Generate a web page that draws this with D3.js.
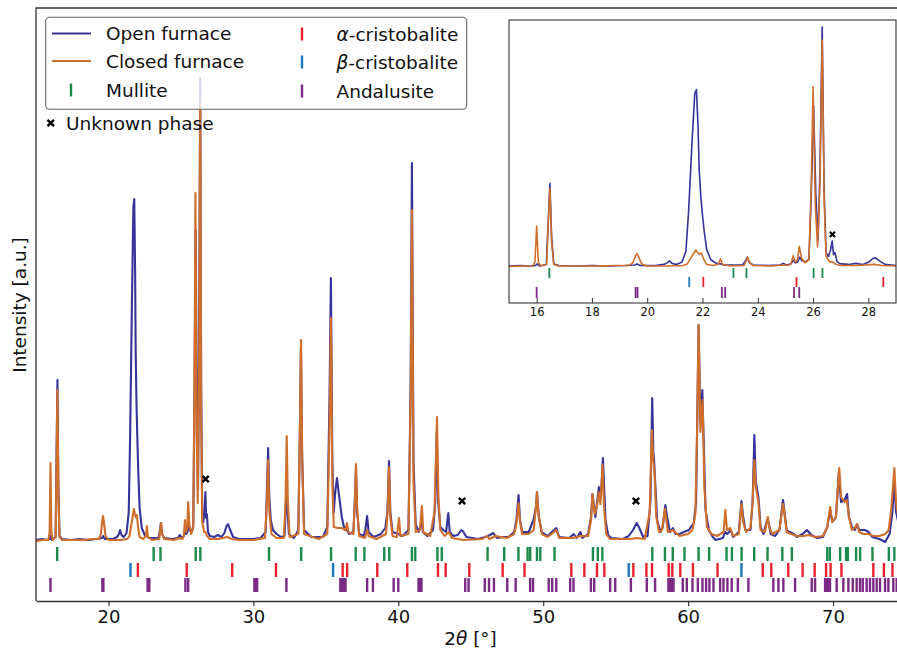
<!DOCTYPE html>
<html><head><meta charset="utf-8">
<script src="https://cdn.jsdelivr.net/npm/d3@7"></script>
<style>body{margin:0;background:#fff} svg{display:block} text{font-family:"DejaVu Sans",sans-serif}</style>
</head><body><svg id="c" width="897" height="652"></svg>
<script>
// ---------- data (2θ in degrees, intensity in arbitrary units) ----------
const openFurnace = [
[15.0,2],[15.4,3],[15.8,2],[15.96,3],[16.02,6],[16.1,2],[16.35,5],[16.42,90],[16.48,162],[16.54,60],[16.62,6],[16.8,3],[17.4,2],[18.0,3],[18.6,2],[19.2,3],[19.55,4],[19.63,6],[19.75,3],[20.3,3],[20.6,5],[20.72,8],[20.8,12],[20.9,7],[21.05,5],[21.25,9],[21.4,30],[21.5,110],[21.62,240],[21.72,335],[21.78,343],[21.84,270],[21.88,188],[21.94,135],[22.0,100],[22.06,70],[22.15,34],[22.3,14],[22.5,7],[22.65,6],[22.8,4],[23.2,4],[23.45,4],[23.56,12],[23.62,19],[23.7,8],[23.85,4],[24.4,3],[24.8,4],[24.92,7],[25.05,4],[25.2,6],[25.28,13],[25.36,8],[25.45,10],[25.52,19],[25.6,12],[25.75,10],[25.85,16],[25.93,130],[26.02,312],[26.1,140],[26.18,52],[26.25,190],[26.33,464],[26.4,150],[26.47,28],[26.55,20],[26.63,32],[26.69,50],[26.74,24],[26.79,28],[26.87,10],[27.0,6],[27.3,5],[27.55,7],[27.8,5],[28.0,9],[28.15,16],[28.25,18],[28.4,12],[28.6,5],[29.0,3],
[30.0,3],[30.5,4],[30.85,10],[30.95,60],[31.02,94],[31.1,45],[31.2,22],[31.35,12],[31.6,8],[31.9,5],[32.15,6],[32.28,52],[32.36,30],[32.45,8],[32.8,4],[33.1,12],[33.2,100],[33.28,195],[33.36,90],[33.5,12],[34.0,5],[34.8,5],[35.1,15],[35.25,140],[35.35,264],[35.45,80],[35.54,29],[35.65,50],[35.77,64],[35.88,50],[35.98,39],[36.1,25],[36.3,12],[36.45,12],[36.6,8],[36.9,10],[37.0,40],[37.08,72],[37.16,30],[37.3,8],[37.6,6],[37.72,12],[37.85,26],[37.95,10],[38.3,5],[38.8,8],[39.1,14],[39.25,30],[39.36,81],[39.45,30],[39.6,10],[40.0,8],[40.3,6],[40.7,12],[40.85,150],[40.94,379],[41.05,80],[41.2,18],[41.4,10],[41.6,20],[41.7,10],[42.0,6],[42.4,12],[42.55,40],[42.65,110],[42.75,40],[42.9,15],[43.1,12],[43.3,10],[43.45,29],[43.55,10],[43.8,6],[44.1,7],[44.35,12],[44.45,11],[44.7,5],[45.5,3],[46.0,5],[46.2,6],[46.55,9],[46.8,4],[47.3,5],[47.6,5],[48.0,10],[48.15,22],[48.3,47],[48.4,22],[48.55,10],[49.0,10],[49.33,22],[49.5,35],[49.57,50],[49.7,25],[49.9,10],[50.3,6],[50.75,12],[50.9,14],[51.1,5],[51.8,4],[52.1,8],[52.3,4],[52.57,10],[52.7,4],[53.1,8],[53.3,25],[53.4,48],[53.6,25],[53.7,38],[53.84,55],[53.98,45],[54.12,84],[54.3,22],[54.48,7],[54.7,4],[55.5,3],[55.9,6],[56.2,12],[56.45,19],[56.6,15],[56.9,5],[57.2,6],[57.4,40],[57.52,144],[57.6,90],[57.65,82],[57.86,22],[58.09,10],[58.25,15],[58.43,37],[58.55,25],[58.75,10],[58.95,14],[59.13,8],[59.4,8],[59.7,10],[60.05,12],[60.39,19],[60.55,40],[60.63,120],[60.72,217],[60.85,120],[60.98,152],[61.2,32],[61.43,12],[61.7,5],[61.9,2],[62.4,4],[62.55,10],[62.7,8],[62.95,12],[63.1,5],[63.5,10],[63.68,41],[63.8,25],[63.95,12],[64.3,12],[64.45,40],[64.57,107],[64.67,60],[64.85,45],[65.0,15],[65.2,8],[65.45,22],[65.55,20],[65.7,8],[66.0,6],[66.3,12],[66.55,42],[66.65,30],[66.8,12],[67.0,10],[67.3,8],[67.5,5],[67.9,8],[68.2,12],[68.5,7],[68.9,4],[69.3,5],[69.6,15],[69.8,32],[69.95,20],[70.2,25],[70.4,70],[70.55,40],[70.8,42],[70.97,48],[71.1,25],[71.3,15],[71.5,12],[71.66,18],[71.8,12],[72.2,12],[72.46,10],[72.7,5],[73.2,3],[73.6,0],[73.9,8],[74.1,30],[74.23,60],[74.35,30],[74.5,20],[75.0,15]
];
const closedFurnace = [
[15.0,1],[15.5,2],[15.85,2],[15.94,10],[16.0,79],[16.06,10],[16.15,2],[16.36,5],[16.42,85],[16.48,152],[16.54,50],[16.62,5],[16.8,2],[17.5,2],[18.2,2],[18.9,3],[19.35,3],[19.48,8],[19.58,22],[19.63,26],[19.7,18],[19.8,6],[20.0,2],[20.8,2],[21.3,3],[21.45,6],[21.6,19],[21.7,28],[21.76,33],[21.82,28],[21.88,25],[21.96,27],[22.05,14],[22.15,5],[22.4,3],[22.58,6],[22.65,16],[22.72,5],[23.0,2],[23.5,3],[23.58,12],[23.63,19],[23.7,8],[23.85,3],[24.5,2],[24.95,4],[25.1,3],[25.2,6],[25.28,22],[25.35,10],[25.44,14],[25.5,40],[25.58,18],[25.7,8],[25.85,14],[25.93,150],[26.0,349],[26.08,120],[26.16,39],[26.25,160],[26.33,439],[26.4,130],[26.47,20],[26.6,10],[26.7,10],[26.8,6],[27.0,3],[27.6,3],[28.2,5],[28.5,3],[29.0,2],
[30.0,2],[30.8,4],[30.93,40],[31.02,82],[31.1,30],[31.25,8],[31.6,4],[32.1,4],[32.22,40],[32.3,106],[32.38,40],[32.5,5],[33.1,8],[33.2,100],[33.29,202],[33.37,80],[33.5,8],[34.5,3],[35.1,8],[35.25,110],[35.35,224],[35.45,60],[35.55,15],[35.8,14],[36.1,14],[36.35,12],[36.46,19],[36.55,10],[36.9,8],[37.0,40],[37.08,78],[37.16,35],[37.3,6],[37.7,4],[37.85,12],[37.95,6],[38.5,3],[39.15,8],[39.26,30],[39.36,75],[39.45,25],[39.6,6],[39.9,5],[40.05,24],[40.15,6],[40.7,8],[40.85,140],[40.94,332],[41.05,60],[41.2,10],[41.5,12],[41.63,36],[41.72,10],[42.2,6],[42.5,30],[42.67,125],[42.77,45],[42.9,12],[43.2,6],[43.5,10],[43.7,4],[44.5,2],[45.8,3],[46.1,6],[46.3,3],[46.7,6],[47.5,4],[48.0,8],[48.15,18],[48.3,39],[48.4,20],[48.55,8],[49.0,8],[49.35,12],[49.5,35],[49.57,50],[49.65,30],[49.9,8],[50.3,5],[50.75,10],[50.9,12],[51.1,4],[52.0,4],[52.6,6],[53.1,6],[53.3,22],[53.4,48],[53.55,28],[53.7,35],[53.84,50],[53.95,38],[54.1,77],[54.2,35],[54.35,8],[54.6,3],[56.0,3],[56.5,4],[57.0,3],[57.35,30],[57.5,112],[57.6,80],[57.68,70],[57.8,25],[58.0,10],[58.2,12],[58.4,33],[58.5,22],[58.6,10],[58.95,12],[59.4,6],[60.0,8],[60.3,12],[60.5,28],[60.63,120],[60.72,217],[60.85,110],[61.0,142],[61.12,55],[61.3,15],[61.6,8],[62.0,6],[62.45,10],[62.57,32],[62.68,12],[62.9,14],[63.1,6],[63.5,8],[63.68,38],[63.8,20],[64.0,10],[64.3,14],[64.45,40],[64.57,82],[64.67,55],[64.85,40],[65.0,12],[65.3,10],[65.5,25],[65.6,15],[65.8,8],[66.3,12],[66.55,38],[66.65,28],[66.8,10],[67.1,8],[67.5,6],[68.0,6],[68.3,7],[68.8,5],[69.3,6],[69.6,15],[69.8,35],[69.95,20],[70.2,25],[70.43,74],[70.55,45],[70.8,40],[70.95,42],[71.1,25],[71.3,12],[71.5,14],[71.65,18],[71.8,10],[72.1,8],[72.45,8],[72.8,6],[73.2,6],[73.6,8],[73.84,12],[74.0,30],[74.23,74],[74.35,40],[74.5,25],[75.0,18]
];
const mullite = [16.46,23.12,23.59,26.02,26.34,31.08,33.3,35.36,37.06,37.66,39.03,39.38,40.94,41.17,42.7,43.0,46.16,47.31,48.29,48.92,49.1,49.57,49.8,50.78,53.43,53.77,54.08,57.53,58.4,58.94,59.75,60.72,61.45,62.65,63.02,63.69,64.56,65.48,66.5,67.16,69.6,69.78,70.49,70.9,71.02,71.59,71.87,72.72,73.85,74.23];
const alphaCristobalite = [22.03,25.4,28.54,31.56,36.16,36.47,38.55,40.62,42.74,43.27,44.9,47.2,48.71,51.94,52.84,53.71,54.22,56.22,57.12,57.51,58.66,58.91,59.46,60.33,62.03,65.15,65.74,66.91,67.9,68.73,69.52,69.83,70.58,72.78,73.51,74.1];
const betaCristobalite = [21.52,35.5,55.9,63.68];
const andalusite = [16.0,19.58,19.65,22.7,22.82,25.31,25.5,30.07,30.17,30.26,32.28,36.0,36.12,36.24,36.36,37.85,38.25,39.68,40.0,41.4,41.5,41.6,44.62,44.85,45.97,46.26,46.6,47.52,48.1,49.1,49.3,50.38,50.62,50.9,51.86,52.09,53.29,53.52,54.62,54.97,56.05,57.15,57.72,58.64,58.76,58.88,58.99,59.63,59.91,60.3,60.67,60.99,61.24,61.47,61.75,62.21,62.44,62.71,63.01,63.43,64.16,65.88,66.23,66.57,67.38,68.53,68.76,69.45,69.57,69.68,69.79,70.25,70.71,71.06,71.36,71.63,71.86,72.05,72.32,72.55,72.78,73.01,73.24,73.59,73.82,74.16,74.39];
const unknownX = [26.7, 44.4, 56.4];
const unknownY = [63, 41, 41];
const mainTicks = [20,30,40,50,60,70];
const insetTicks = [16,18,20,22,24,26,28];

// ---------- drawing ----------
const C = {open:'#36349a', closed:'#d06f2c', mullite:'#1b8a4c', alpha:'#e8222c', beta:'#1f78c0', andal:'#7b2a85', frame:'#333'};
const svg = d3.select('#c');
const FONT = '"DejaVu Sans", sans-serif';

function panel(g, x, y, opt){
  const [x0,x1] = x.range(), [y0,y1] = y.range();
  const id = opt.id;
  svg.append('clipPath').attr('id', id).append('rect')
     .attr('x', x0).attr('y', y1).attr('width', x1-x0).attr('height', y0-y1);
  if (opt.bg) g.append('rect').attr('x', x0).attr('y', y1).attr('width', x1-x0).attr('height', y0-y1).attr('fill','#fff');
  const body = g.append('g').attr('clip-path', `url(#${id})`);
  const line = d3.line().x(d=>x(d[0])).y(d=>y(d[1]));
  const rows = [
    {data: mullite, col: C.mullite, r: opt.rows[0]},
    {data: alphaCristobalite, col: C.alpha, r: opt.rows[1]},
    {data: betaCristobalite, col: C.beta, r: opt.rows[1]},
    {data: andalusite, col: C.andal, r: opt.rows[2]}
  ];
  rows.forEach(rw=>{
    body.append('g').selectAll('line').data(rw.data).join('line')
      .attr('x1', d=>x(d)).attr('x2', d=>x(d)).attr('y1', rw.r[0]).attr('y2', rw.r[1])
      .attr('stroke', rw.col).attr('stroke-width', opt.tw);
  });
  body.append('path').datum(openFurnace).attr('d', line).attr('fill','none')
      .attr('stroke', C.open).attr('stroke-width', opt.lw).attr('stroke-linejoin','round');
  body.append('path').datum(closedFurnace).attr('d', line).attr('fill','none')
      .attr('stroke', C.closed).attr('stroke-width', opt.lw).attr('stroke-linejoin','round');
  const s = opt.ms;
  body.append('g').selectAll('path').data(unknownX.map((v,i)=>[v, unknownY[i]])).join('path')
      .attr('d', d=>{const cx=x(d[0]), cy=y(d[1]); return `M${cx-s},${cy-s}L${cx+s},${cy+s}M${cx-s},${cy+s}L${cx+s},${cy-s}`;})
      .attr('stroke','#000').attr('stroke-width', opt.mw).attr('fill','none');
  return body;
}

// main axes
const x = d3.scaleLinear().domain([15,75]).range([36, 905.5]);
const y = d3.scaleLinear().domain([-59,534]).range([601, 8]);
const gMain = svg.append('g');
panel(gMain, x, y, {id:'clipMain', rows:[[547,561],[563,577],[578,592]], tw:2.4, lw:2.1, ms:3.2, mw:2.4});
gMain.append('path').attr('d','M36,601V8H905.5').attr('fill','none').attr('stroke',C.frame).attr('stroke-width',1.3);
const ax = gMain.append('g').attr('transform','translate(0,601)')
  .call(d3.axisBottom(x).tickValues(mainTicks).tickSize(5).tickSizeOuter(0).tickPadding(4).tickFormat(d3.format('d')));
ax.select('.domain').attr('stroke',C.frame).attr('stroke-width',1.3);
ax.selectAll('.tick line').attr('stroke',C.frame).attr('stroke-width',1.2);
ax.selectAll('text').attr('font-size',18).attr('font-family',FONT).attr('fill','#111');

const xl = svg.append('text').attr('x',470.5).attr('y',645).attr('text-anchor','middle')
  .attr('font-size',18.5).attr('fill','#111');
xl.append('tspan').text('2');
xl.append('tspan').attr('font-style','italic').text('θ');
xl.append('tspan').text(' [°]');
svg.append('text').attr('transform','translate(26,305) rotate(-90)').attr('text-anchor','middle')
  .attr('font-size',18.5).attr('fill','#111').text('Intensity [a.u.]');

// legend
const lg = svg.append('g');
lg.append('rect').attr('x',45.7).attr('y',17.3).attr('width',421).attr('height',92).attr('rx',4)
  .attr('fill','#fff').attr('fill-opacity',0.8).attr('stroke','#666').attr('stroke-width',1.1);
const L = [
  {type:'line', col:C.open, x:52, y:33.5, label:['Open furnace']},
  {type:'line', col:C.closed, x:52, y:61, label:['Closed furnace']},
  {type:'bar', col:C.mullite, x:71, y:90, label:['Mullite']},
  {type:'bar', col:C.alpha, x:302, y:34, label:['α','-cristobalite'], tx:336.5},
  {type:'bar', col:C.beta, x:302, y:62, label:['β','-cristobalite'], tx:336.5},
  {type:'bar', col:C.andal, x:302, y:91, label:['Andalusite'], tx:336.5}
];
L.forEach(it=>{
  if (it.type==='line') lg.append('line').attr('x1',it.x).attr('x2',it.x+39).attr('y1',it.y).attr('y2',it.y)
      .attr('stroke',it.col).attr('stroke-width',1.8);
  else lg.append('line').attr('x1',it.x).attr('x2',it.x).attr('y1',it.y-6.5).attr('y2',it.y+6.5)
      .attr('stroke',it.col).attr('stroke-width',2.4);
  const t = lg.append('text').attr('x', it.tx||106).attr('y', it.y+6.5).attr('font-size',18.5).attr('fill','#111');
  if (it.label.length===2){ t.append('tspan').attr('font-style','italic').text(it.label[0]); t.append('tspan').text(it.label[1]); }
  else t.text(it.label[0]);
});
lg.append('path').attr('d','M47.5,119.8L53.9,126.2M47.5,126.2L53.9,119.8').attr('stroke','#000').attr('stroke-width',2.4);
lg.append('text').attr('x',66).attr('y',129.5).attr('font-size',18.5).attr('fill','#111').text('Unknown phase');

// inset
const xi = d3.scaleLinear().domain([15,29]).range([509, 896]);
const yi = d3.scaleLinear().domain([-69.6,477.6]).range([303, 20]);
const gIn = svg.append('g');
panel(gIn, xi, yi, {id:'clipInset', bg:true, rows:[[268,278],[277,287],[287,298]], tw:1.8, lw:1.6, ms:2.6, mw:2});
gIn.append('rect').attr('x',509).attr('y',20).attr('width',387).attr('height',283)
  .attr('fill','none').attr('stroke',C.frame).attr('stroke-width',1.1);
const axi = gIn.append('g').attr('transform','translate(0,303)')
  .call(d3.axisBottom(xi).tickValues(insetTicks).tickSize(-5).tickSizeOuter(0).tickPadding(5).tickFormat(d3.format('d')));
axi.select('.domain').remove();
axi.selectAll('.tick line').attr('stroke',C.frame);
axi.selectAll('text').attr('font-size',11.5).attr('font-family',FONT).attr('fill','#111');
</script></body></html>
